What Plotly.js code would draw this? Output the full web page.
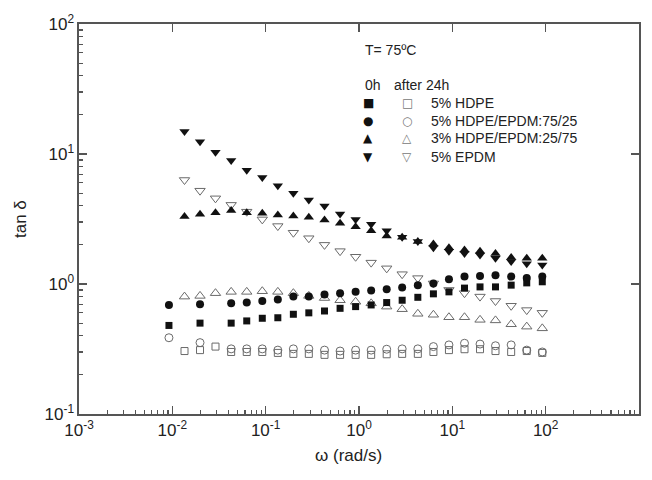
<!DOCTYPE html>
<html>
<head>
<meta charset="utf-8">
<script src="https://cdn.plot.ly/plotly-3.0.1.min.js"></script>
<style>html,body{margin:0;padding:0;background:#fff;}#chart{width:652px;height:480px;}</style>
</head>
<body>
<div id="chart"></div>
<script>
// angular frequency (rad/s)
const omega = [0.0092, 0.0135, 0.0198, 0.029, 0.0427, 0.0627, 0.092, 0.135, 0.198, 0.29, 0.427, 0.627, 0.92, 1.35, 1.98, 2.9, 4.27, 6.27, 9.2, 13.5, 19.8, 29, 42.7, 62.7, 92];

// tan delta, 0h (filled) and after 24h (open)
const hdpe_0h   = [0.48, null, 0.50, null, 0.50, 0.52, 0.545, 0.55, 0.585, 0.60, 0.62, 0.65, 0.67, 0.69, 0.72, 0.75, 0.79, 0.84, 0.87, 0.93, 0.95, 0.95, 0.98, 1.02, 1.04];
const hdpe_24h  = [null, 0.305, 0.31, 0.33, 0.30, 0.30, 0.30, 0.295, 0.29, 0.29, 0.285, 0.285, 0.285, 0.285, 0.288, 0.29, 0.29, 0.30, 0.31, 0.315, 0.315, 0.305, 0.30, 0.305, 0.295];
const b7525_0h  = [0.69, null, 0.70, null, 0.71, 0.72, 0.74, 0.76, 0.80, 0.80, 0.83, 0.85, 0.87, 0.89, 0.91, 0.94, 0.98, 1.01, 1.09, 1.14, 1.15, 1.17, 1.14, 1.11, 1.14];
const b7525_24h = [0.386, null, 0.354, null, 0.317, 0.317, 0.317, 0.31, 0.317, 0.317, 0.31, 0.305, 0.31, 0.31, 0.315, 0.317, 0.317, 0.33, 0.34, 0.35, 0.345, 0.335, 0.34, 0.31, 0.30];
const b2575_0h  = [null, 3.30, 3.44, 3.54, 3.67, 3.54, 3.50, 3.40, 3.34, 3.26, 3.10, 2.93, 2.76, 2.57, 2.34, 2.29, 2.12, 2.03, 1.90, 1.83, 1.79, 1.72, 1.60, 1.58, 1.58];
const b2575_24h = [null, 0.80, 0.81, 0.85, 0.87, 0.87, 0.88, 0.87, 0.85, 0.81, 0.78, 0.75, 0.73, 0.71, 0.67, 0.64, 0.59, 0.58, 0.555, 0.555, 0.53, 0.525, 0.49, 0.47, 0.456];
const epdm_0h   = [null, 14.9, 12.4, 10.3, 8.9, 7.5, 6.6, 5.7, 4.98, 4.43, 3.98, 3.46, 3.14, 2.88, 2.57, 2.29, 2.12, 1.90, 1.79, 1.72, 1.67, 1.58, 1.49, 1.43, 1.40];
const epdm_24h  = [null, 6.31, 5.22, 4.56, 4.06, 3.60, 3.14, 2.79, 2.48, 2.25, 2.0, 1.79, 1.62, 1.46, 1.32, 1.19, 1.11, 1.01, 0.90, 0.85, 0.80, 0.74, 0.68, 0.63, 0.60];

const seriesNames = ['5% HDPE', '5% HDPE/EPDM:75/25', '3% HDPE/EPDM:25/75', '5% EPDM'];
const filledGlyphs = ['\u25A0', '\u25CF', '\u25B2', '\u25BC'];
const openGlyphs = ['\u25A1', '\u25CB', '\u25B3', '\u25BD'];
const xTickVals = [0.001, 0.01, 0.1, 1, 10, 100, 1000];
const xTickText = ['10<sup>-3</sup>', '10<sup>-2</sup>', '10<sup>-1</sup>', '10<sup>0</sup>', '10<sup>1</sup>', '10<sup>2</sup>', '10<sup>3</sup>'];
const yTickVals = [0.1, 1, 10, 100];
const yTickText = ['10<sup>-1</sup>', '10<sup>0</sup>', '10<sup>1</sup>', '10<sup>2</sup>'];

// minor tick positions (2..9 within each decade)
function minorVals(decades) {
  const out = [];
  decades.slice(0, -1).forEach(d => { for (let m = 2; m <= 9; m++) out.push(+(d * m).toPrecision(3)); });
  return out;
}

const FILL = '#111';
const OPEN = '#6a6a6a';
function openTrace(y, sym, size) {
  return {x: omega, y: y, type: 'scatter', mode: 'markers', showlegend: false, cliponaxis: false,
    marker: {symbol: sym, size: size, color: OPEN, line: {color: OPEN, width: 1}}};
}
function fillTrace(y, sym, size) {
  return {x: omega, y: y, type: 'scatter', mode: 'markers', showlegend: false, cliponaxis: false,
    marker: {symbol: sym, size: size, color: FILL, line: {width: 0}}};
}
const ghost = (xa, ya) => ({x: [0.01], y: [1], xaxis: xa, yaxis: ya, type: 'scatter', mode: 'markers',
  showlegend: false, hoverinfo: 'skip', marker: {opacity: 0, size: 1}});
const data = [
  openTrace(hdpe_24h, 'square-open', 7),
  openTrace(b7525_24h, 'circle-open', 8),
  openTrace(b2575_24h, 'triangle-up-open', 9),
  openTrace(epdm_24h, 'triangle-down-open', 9),
  fillTrace(hdpe_0h, 'square', 7),
  fillTrace(b7525_0h, 'circle', 8),
  fillTrace(b2575_0h, 'triangle-up', 9),
  fillTrace(epdm_0h, 'triangle-down', 9),
  ghost('x2', 'y2'),
  ghost('x3', 'y3')
];

// plot box in pixels: left 79, right 639, top 24, bottom 414
const L = 79, R = 639, T = 24, B = 414;
const px = v => (v - L) / (R - L);
const py = v => (B - v) / (B - T);
const FAM = 'Liberation Sans, Arial, Helvetica, sans-serif';
const TXT = {family: FAM, size: 14, color: '#222'};
const GLY = {family: 'DejaVu Sans, sans-serif', size: 12, color: '#111'};
const GLYO = {family: 'DejaVu Sans, sans-serif', size: 12, color: '#777'};

const ann = [];
function a(x, y, text, font, xanchor, angle) {
  ann.push({xref: 'paper', yref: 'paper', x: px(x), y: py(y), text: text, showarrow: false,
    xanchor: xanchor || 'left', yanchor: 'middle', font: font, textangle: angle || 0});
}
a(363, 50, 'T= 75\u00BAC', TXT);
a(363, 85, '0h', TXT);
a(392, 85, 'after 24h', TXT);
const rowY = [103, 121, 138, 157];
seriesNames.forEach((n, i) => {
  a(368, rowY[i], filledGlyphs[i], GLY, 'center');
  a(407, rowY[i], openGlyphs[i], GLYO, 'center');
  a(429, rowY[i], n, TXT);
});
a(348, 455, '\u03C9 (rad/s)', {family: FAM, size: 17, color: '#222'}, 'center');
a(20, 219, 'tan \u03B4', {family: FAM, size: 17, color: '#222'}, 'center', -90);

const AX = '#555';
const tickFont = {family: FAM, size: 17, color: '#222'};
const plain = {showticklabels: false, showgrid: false, showline: false, zeroline: false,
  ticks: 'inside', tickwidth: 1.2, tickcolor: AX};
const layout = {
  width: 652, height: 480,
  margin: {l: L, r: 652 - R, t: T, b: 480 - B, pad: 0},
  paper_bgcolor: '#fff', plot_bgcolor: '#fff',
  showlegend: false,
  xaxis: {type: 'log', range: [-3, 3], tickvals: xTickVals, ticktext: xTickText,
    showline: true, linecolor: AX, linewidth: 1.6, mirror: true, showgrid: false, zeroline: false,
    ticks: 'inside', ticklen: 8, tickwidth: 1.2, tickcolor: AX, tickfont: tickFont},
  yaxis: {type: 'log', range: [-1, 2], tickvals: yTickVals, ticktext: yTickText,
    showline: true, linecolor: AX, linewidth: 1.6, mirror: true, showgrid: false, zeroline: false,
    ticks: 'inside', ticklen: 8, tickwidth: 1.2, tickcolor: AX, tickfont: tickFont},
  // top / right: major ticks only
  xaxis2: Object.assign({type: 'log', range: [-3, 3], overlaying: 'x', side: 'top', ticklen: 8, tickvals: xTickVals}, plain),
  yaxis2: Object.assign({type: 'log', range: [-1, 2], overlaying: 'y', side: 'right', ticklen: 8, tickvals: yTickVals}, plain),
  // bottom / left: minor ticks
  xaxis3: Object.assign({type: 'log', range: [-3, 3], overlaying: 'x', side: 'bottom', ticklen: 4, tickvals: minorVals(xTickVals)}, plain),
  yaxis3: Object.assign({type: 'log', range: [-1, 2], overlaying: 'y', side: 'left', ticklen: 4, tickvals: minorVals(yTickVals)}, plain),
  annotations: ann
};
Plotly.newPlot('chart', data, layout, {staticPlot: true, displayModeBar: false});
</script>
</body>
</html>
